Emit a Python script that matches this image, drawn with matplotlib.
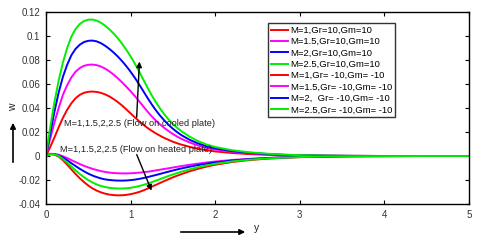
import matplotlib
matplotlib.use("Agg")
import matplotlib.pyplot as plt
from matplotlib.patches import FancyArrowPatch

plt.rcParams['font.family'] = ['Liberation Sans', 'DejaVu Sans']

y = [0, 0.05, 0.1, 0.15, 0.2, 0.25, 0.3, 0.35, 0.4, 0.45, 0.5, 0.55, 0.6, 0.65, 0.7, 0.75,
     0.8, 0.85, 0.9, 0.95, 1.0, 1.05, 1.1, 1.15, 1.2, 1.25, 1.3, 1.35, 1.4, 1.45, 1.5, 1.55,
     1.6, 1.7, 1.8, 1.9, 2.0, 2.2, 2.4, 2.6, 2.8, 3.0, 3.3, 3.6, 4.0, 4.5, 5.0]

# Gr=10, Gm=10 (flow on cooled plate)
w_m1_pos = [0, .0075, .0155, .0240, .0318, .0385, .0440, .0482, .0510, .0527, .0535, .0537,
            .0534, .0526, .0513, .0496, .0474, .0449, .0420, .0388, .0355, .0322, .0290, .0261,
            .0234, .0210, .0188, .0168, .0150, .0134, .0119, .0106, .0095, .0076, .0060, .0048,
            .0038, .0025, .0016, .0010, .0006, .0004, .0002, .0001, 0, 0, 0]
w_m15_pos = [0, .0145, .028, .040, .051, .059, .0655, .0703, .0733, .0752, .0760, .0762,
             .0757, .0745, .0728, .0705, .0678, .0647, .0613, .0577, .0540, .0500, .0457, .0413,
             .0370, .0330, .0294, .0262, .0233, .0207, .0183, .0162, .0143, .0112, .0087, .0068,
             .0054, .0035, .0023, .0015, .0009, .0005, .0002, .0001, 0, 0, 0]
w_m2_pos = [0, .019, .037, .053, .066, .076, .0840, .0893, .0928, .0950, .0960, .0962,
            .0955, .0940, .0918, .0892, .0862, .0828, .0790, .0748, .0702, .0652, .0598, .0541,
            .0484, .0430, .0380, .0335, .0295, .0259, .0227, .0199, .0174, .0134, .0104, .0081,
            .0064, .0041, .0027, .0017, .0010, .0006, .0003, .0001, 0, 0, 0]
w_m25_pos = [0, .024, .045, .063, .078, .090, .0995, .1058, .1100, .1125, .1136, .1137,
             .1128, .1110, .1085, .1055, .1020, .0980, .0935, .0885, .0830, .0770, .0705, .0637,
             .0570, .0505, .0447, .0394, .0346, .0304, .0267, .0235, .0207, .0160, .0123, .0095,
             .0075, .0048, .0031, .0020, .0012, .0007, .0003, .0001, 0, 0, 0]

# Gr=-10, Gm=-10 (flow on heated plate)
w_m1_neg = [0, .0015, .0012, -.0005, -.0035, -.0072, -.0112, -.0150, -.0186, -.0218, -.0246,
            -.0270, -.0289, -.0303, -.0314, -.0322, -.0326, -.0328, -.0327, -.0324, -.0318,
            -.0310, -.0300, -.0287, -.0272, -.0256, -.0240, -.0224, -.0208, -.0193, -.0178,
            -.0164, -.0151, -.0127, -.0106, -.0088, -.0073, -.0050, -.0034, -.0023, -.0015,
            -.0010, -.0005, -.0002, -.0001, 0, 0]
w_m15_neg = [0, .0018, .0017, .0010, -.0002, -.0017, -.0034, -.0051, -.0067, -.0082, -.0095,
             -.0107, -.0117, -.0126, -.0133, -.0138, -.0142, -.0144, -.0145, -.0145, -.0144,
             -.0142, -.0139, -.0135, -.0131, -.0126, -.0120, -.0114, -.0108, -.0102, -.0096,
             -.0090, -.0084, -.0073, -.0063, -.0054, -.0046, -.0033, -.0024, -.0017, -.0011,
             -.0007, -.0004, -.0002, -.0001, 0, 0]
w_m2_neg = [0, .0017, .0015, .0004, -.0013, -.0035, -.0060, -.0084, -.0107, -.0128, -.0147,
            -.0163, -.0176, -.0187, -.0195, -.0200, -.0203, -.0205, -.0205, -.0204, -.0201,
            -.0197, -.0191, -.0184, -.0176, -.0167, -.0158, -.0149, -.0139, -.0130, -.0121,
            -.0112, -.0104, -.0089, -.0075, -.0064, -.0054, -.0038, -.0027, -.0018, -.0012,
            -.0008, -.0004, -.0002, -.0001, 0, 0]
w_m25_neg = [0, .0016, .0014, .0000, -.0025, -.0055, -.0088, -.0120, -.0150, -.0177, -.0201,
             -.0221, -.0237, -.0250, -.0259, -.0265, -.0269, -.0271, -.0271, -.0269, -.0265,
             -.0259, -.0251, -.0241, -.0230, -.0218, -.0205, -.0192, -.0179, -.0166, -.0154,
             -.0142, -.0131, -.0111, -.0093, -.0078, -.0065, -.0045, -.0031, -.0021, -.0014,
             -.0009, -.0004, -.0002, -.0001, 0, 0]

labels = ["M=1,Gr=10,Gm=10", "M=1.5,Gr=10,Gm=10", "M=2,Gr=10,Gm=10", "M=2.5,Gr=10,Gm=10",
          "M=1,Gr= -10,Gm= -10", "M=1.5,Gr= -10,Gm= -10", "M=2,  Gr= -10,Gm= -10",
          "M=2.5,Gr= -10,Gm= -10"]
series = [w_m1_pos, w_m15_pos, w_m2_pos, w_m25_pos, w_m1_neg, w_m15_neg, w_m2_neg, w_m25_neg]
colors = ["#ff0000", "#ff00ff", "#0000ff", "#00ee00"] * 2

xticks = [0, 1, 2, 3, 4, 5]
yticks = [-0.04, -0.02, 0, 0.02, 0.04, 0.06, 0.08, 0.1, 0.12]
yticklabels = ["-0.04", "-0.02", "0", "0.02", "0.04", "0.06", "0.08", "0.1", "0.12"]

fig = plt.figure(figsize=(4.8, 2.41), dpi=100)
ax = fig.add_axes([46/480, 1-204/241, (469-46)/480, (204-12)/241])

handles = []
for s, c, lab in zip(series, colors, labels):
    h, = ax.plot(y[:len(s)], s, color=c, lw=1.4, label=lab)
    handles.append(h)

ax.set_xlim(0, 5)
ax.set_ylim(-0.04, 0.12)
ax.set_xticks(xticks)
ax.set_xticklabels([str(t) for t in xticks])
ax.set_yticks(yticks)
ax.set_yticklabels(yticklabels)
ax.tick_params(direction='in', top=True, right=True, labelsize=7, labelcolor='#333333',
               length=3, width=0.8, pad=4)
for sp in ax.spines.values():
    sp.set_linewidth(1.0)

leg = fig.legend(handles=handles, loc='upper left', bbox_to_anchor=(268/480, 1-23/241),
                 fontsize=6.8, frameon=True, fancybox=False, edgecolor='black',
                 handlelength=1.8, handletextpad=0.3, labelspacing=0.25,
                 borderpad=0.3, borderaxespad=0)
leg.get_frame().set_linewidth(1.0)

# annotations
ax.text(0.21, 0.0267, "M=1,1.5,2,2.5 (Flow on cooled plate)", fontsize=6.7, color='#222222',
        va='center', ha='left')
ax.text(0.165, 0.0058, "M=1,1.5,2,2.5 (Flow on heated plate)", fontsize=6.7, color='#222222',
        va='center', ha='left')
ax.annotate("", xy=(1.106, 0.081), xytext=(1.07, 0.030),
            arrowprops=dict(arrowstyle='-|>', color='black', lw=1.0, mutation_scale=8))
ax.annotate("", xy=(1.26, -0.031), xytext=(1.06, 0.0033),
            arrowprops=dict(arrowstyle='-|>', color='black', lw=1.0, mutation_scale=8))

# axis label arrows
fig.patches.append(FancyArrowPatch(
    (13/480, 1-165/241), (13/480, 1-120/241), transform=fig.transFigure,
    arrowstyle='-|>', mutation_scale=8, lw=1.2, color='black'))
fig.text(13/480, 1-107/241, "w", rotation=90, fontsize=7.5, ha='center', va='center',
         color='#222222')
fig.patches.append(FancyArrowPatch(
    (178/480, 1-232/241), (248/480, 1-232/241), transform=fig.transFigure,
    arrowstyle='-|>', mutation_scale=8, lw=1.2, color='black'))
fig.text(257/480, 1-228/241, "y", fontsize=7.5, ha='center', va='center', color='#222222')

fig.savefig("out.png", dpi=100)
